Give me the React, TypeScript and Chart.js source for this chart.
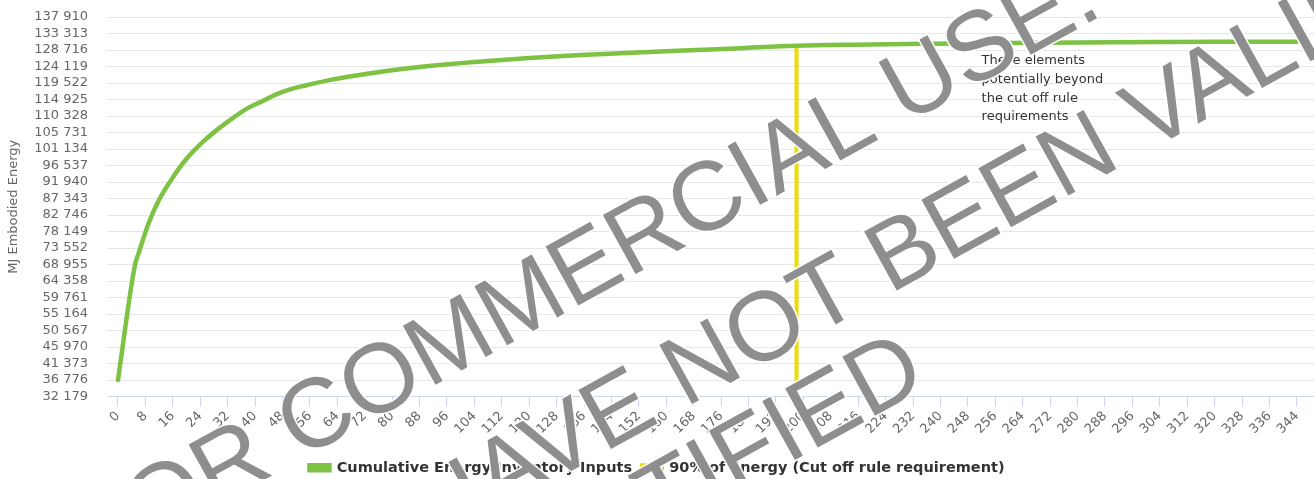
import React, { useEffect, useRef } from "react";
import { Chart, registerables } from "chart.js";

Chart.register(...registerables);

// ---- data ----
const elementIndex = [0, 5, 6, 9, 12, 16, 20, 25, 30, 34, 38, 42, 46, 50, 55, 62, 70, 80, 90, 104, 120, 135, 150, 165, 180, 198, 215, 237, 260, 290, 320, 344];
const cumulativeEnergy = [36776, 69000, 72000, 80600, 87000, 93200, 98400, 103300, 107300, 110100, 112600, 114400, 116300, 117700, 118900, 120400, 121700, 123100, 124200, 125400, 126500, 127300, 127950, 128600, 129150, 129900, 130200, 130450, 130650, 130850, 130980, 131040];
const cutoffIndex = [198, 198];
const cutoffEnergy = [32179, 130250];

const yTickValues = [32179, 36776, 41373, 45970, 50567, 55164, 59761, 64358, 68955, 73552, 78149, 82746, 87343, 91940, 96537, 101134, 105731, 110328, 114925, 119522, 124119, 128716, 133313, 137910];
const xTickValues = [0, 8, 16, 24, 32, 40, 48, 56, 64, 72, 80, 88, 96, 104, 112, 120, 128, 136, 144, 152, 160, 168, 176, 184, 192, 200, 208, 216, 224, 232, 240, 248, 256, 264, 272, 280, 288, 296, 304, 312, 320, 328, 336, 344];

const seriesLabels = ["Cumulative Energy Inventory Inputs", "90% of Energy (Cut off rule requirement)"];
const yAxisTitle = "MJ Embodied Energy";
const noteLines = ["These elements", "potentially beyond", "the cut off rule", "requirements"];
const watermarkLines = ["NOT FOR COMMERCIAL USE:", "RESULTS HAVE NOT BEEN VALIDATED", "OR CERTIFIED"];

const fmt = (v: number) => String(Math.round(v)).replace(/\B(?=(\d{3})+(?!\d))/g, " ");

const noteAndWatermark = {
  id: "noteAndWatermark",
  afterDraw(chart: any) {
    const { ctx, scales } = chart;
    ctx.save();
    ctx.fillStyle = "#333333";
    ctx.font = "13px 'DejaVu Sans'";
    ctx.textAlign = "left";
    ctx.textBaseline = "middle";
    const nx = scales.x.getPixelForValue(252);
    noteLines.forEach((t, i) => ctx.fillText(t, nx, 61 + i * 18.7));
    ctx.restore();

    // watermark
    ctx.save();
    ctx.font = "98px 'Liberation Sans'";
    ctx.fillStyle = "#8e8e8e";
    ctx.strokeStyle = "#ffffff";
    ctx.lineWidth = 3;
    ctx.textBaseline = "alphabetic";
    ctx.textAlign = "left";
    const ang = (-29 * Math.PI) / 180;
    const anchors = [
      { k: 8, x: 300, y: 460 },
      { k: 13, x: 685, y: 408 },
      { k: 6, x: 660, y: 535 },
    ];
    watermarkLines.forEach((t, i) => {
      const a = anchors[i];
      const pre = ctx.measureText(t.slice(0, a.k)).width;
      ctx.save();
      ctx.translate(a.x, a.y);
      ctx.rotate(ang);
      ctx.strokeText(t, -pre, 0);
      ctx.fillText(t, -pre, 0);
      ctx.restore();
    });
    ctx.restore();
  },
};

export default function App() {
  const ref = useRef<HTMLCanvasElement | null>(null);

  useEffect(() => {
    document.body.style.margin = "0";
    const canvas = ref.current;
    if (!canvas) return;
    const chart = new Chart(canvas, {
      type: "line",
      data: {
        datasets: [
          {
            label: seriesLabels[0],
            data: elementIndex.map((x, i) => ({ x, y: cumulativeEnergy[i] })),
            borderColor: "#7dc242",
            backgroundColor: "#7dc242",
            borderWidth: 4.5,
            pointRadius: 0,
            cubicInterpolationMode: "monotone",
            borderCapStyle: "round",
          },
          {
            label: seriesLabels[1],
            data: cutoffIndex.map((x, i) => ({ x, y: cutoffEnergy[i] })),
            borderColor: "#eedd00",
            backgroundColor: "#eedd00",
            borderWidth: 4,
            pointRadius: 0,
          },
        ],
      },
      options: {
        animation: false,
        responsive: false,
        maintainAspectRatio: false,
        layout: { padding: { top: 17, left: 0, right: 0, bottom: 0 } },
        plugins: {
          legend: {
            position: "bottom",
            labels: {
              boxWidth: 20,
              boxHeight: 5,
              padding: 10,
              color: "#333333",
              font: { family: "'DejaVu Sans'", size: 14.5, weight: "bold" },
            },
          },
          tooltip: { enabled: false },
        },
        scales: {
          x: {
            type: "linear",
            min: -3.2,
            max: 349,
            afterBuildTicks: (s: any) => {
              s.ticks = xTickValues.map((v) => ({ value: v }));
            },
            afterFit: (s: any) => {
              s.height = 54;
            },
            ticks: {
              autoSkip: false,
              minRotation: 45,
              maxRotation: 45,
              padding: 2,
              color: "#666666",
              font: { family: "'DejaVu Sans'", size: 13 },
              callback: (v: any) => String(v),
            },
            grid: { drawOnChartArea: false, drawTicks: true, tickLength: 10, color: "#ccd6eb" },
            border: { color: "#ccd6eb" },
          },
          y: {
            type: "linear",
            min: yTickValues[0],
            max: yTickValues[yTickValues.length - 1],
            afterBuildTicks: (s: any) => {
              s.ticks = yTickValues.map((v) => ({ value: v }));
            },
            afterFit: (s: any) => {
              s.width = 107;
              s.paddingTop = 8;
              s.paddingBottom = 8;
            },
            ticks: {
              autoSkip: false,
              padding: 19,
              color: "#666666",
              font: { family: "'DejaVu Sans'", size: 13 },
              callback: (v: any) => fmt(Number(v)),
            },
            grid: { color: "#e6e6e6", drawTicks: false },
            border: { display: false },
            title: {
              display: true,
              text: yAxisTitle,
              color: "#666666",
              font: { family: "'DejaVu Sans'", size: 13 },
              padding: { top: 6, bottom: 0 },
            },
          },
        },
      },
      plugins: [noteAndWatermark],
    });
    return () => chart.destroy();
  }, []);

  return (
    <div style={{ width: 1314, height: 479, overflow: "hidden" }}>
      <canvas ref={ref} width={1314} height={485} style={{ display: "block" }} />
    </div>
  );
}
